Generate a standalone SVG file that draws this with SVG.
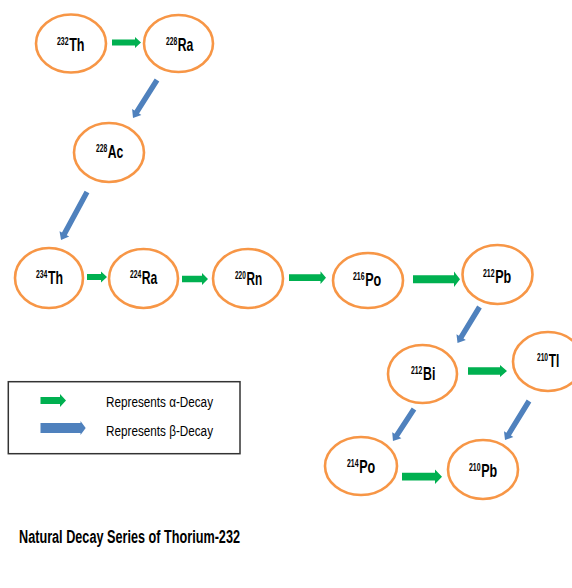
<svg xmlns="http://www.w3.org/2000/svg" width="572" height="588" viewBox="0 0 572 588">
<style>
.node ellipse{fill:#fff;stroke:#F79646;stroke-width:2.6}
.main{font-family:"Liberation Sans",Arial,sans-serif;font-weight:bold;font-size:19px;fill:#000}
.sup{font-family:"Liberation Sans",Arial,sans-serif;font-weight:bold;font-size:10.5px;fill:#000}
.alpha{fill:#00B050}
.beta{fill:#4F81BD}
.leg{font-family:"Liberation Sans",Arial,sans-serif;font-size:15.5px;fill:#000}
.title{font-family:"Liberation Sans",Arial,sans-serif;font-weight:bold;font-size:18px;fill:#000}
</style>
<rect width="572" height="588" fill="#fff"/>
<g id="connectors">
<path class="alpha" d="M112,39.5 H135 V37 L141,42.5 L135,48 V45.5 H112 Z"/>
<path class="alpha" d="M87,274 H101 V271.5 L107,277 L101,282.5 V280 H87 Z"/>
<path class="alpha" d="M182,275.8 H202 V273 L208,279 L202,285 V282.2 H182 Z"/>
<path class="alpha" d="M289,274.3 H320.5 V271.3 L326,277.7 L320.5,284 V281 H289 Z"/>
<path class="alpha" d="M413,275.3 H454 V271.5 L460,279.3 L454,287 V283.3 H413 Z"/>
<path class="alpha" d="M468,367.2 H500 V365 L507,371 L500,377 V374.8 H468 Z"/>
<path class="alpha" d="M402,472.8 H435 V469.5 L442,476.7 L435,484 V480.6 H402 Z"/>
<path class="beta" transform="translate(157,80) rotate(122.3)" d="M0,-2.7 H37.9 V-5.5 L44.9,0 L37.9,5.5 V2.7 H0 Z"/>
<path class="beta" transform="translate(87,192) rotate(118.4)" d="M0,-2.7 H47.6 V-5.5 L54.6,0 L47.6,5.5 V2.7 H0 Z"/>
<path class="beta" transform="translate(479.5,307) rotate(121.4)" d="M0,-2.7 H35.2 V-5.5 L42.2,0 L35.2,5.5 V2.7 H0 Z"/>
<path class="beta" transform="translate(414,409) rotate(123.3)" d="M0,-2.7 H31.3 V-5.5 L38.3,0 L31.3,5.5 V2.7 H0 Z"/>
<path class="beta" transform="translate(529,401) rotate(121.6)" d="M0,-2.7 H38.8 V-5.5 L45.8,0 L38.8,5.5 V2.7 H0 Z"/>
</g>
<g id="n232Th" class="node"><ellipse cx="71" cy="43.5" rx="35" ry="29"/><g transform="translate(57,51) scale(0.66,1)"><text class="sup" x="0" y="-6">232</text><text class="main" x="18.5" y="0">Th</text></g></g>
<g id="n228Ra" class="node"><ellipse cx="178.5" cy="43.5" rx="34.5" ry="28.5"/><g transform="translate(166,51) scale(0.64,1)"><text class="sup" x="0" y="-6">228</text><text class="main" x="18.5" y="0">Ra</text></g></g>
<g id="n228Ac" class="node"><ellipse cx="109" cy="152.5" rx="35" ry="29.5"/><g transform="translate(96,158) scale(0.64,1)"><text class="sup" x="0" y="-6">228</text><text class="main" x="18.5" y="0">Ac</text></g></g>
<g id="n234Th" class="node"><ellipse cx="49" cy="278" rx="34" ry="30"/><g transform="translate(36,284) scale(0.65,1)"><text class="sup" x="0" y="-6">234</text><text class="main" x="18.5" y="0">Th</text></g></g>
<g id="n224Ra" class="node"><ellipse cx="143.5" cy="278.5" rx="34.5" ry="29.5"/><g transform="translate(130,284) scale(0.64,1)"><text class="sup" x="0" y="-6">224</text><text class="main" x="18.5" y="0">Ra</text></g></g>
<g id="n220Rn" class="node"><ellipse cx="248" cy="278.5" rx="35" ry="29.5"/><g transform="translate(235,285) scale(0.62,1)"><text class="sup" x="0" y="-6">220</text><text class="main" x="18.5" y="0">Rn</text></g></g>
<g id="n216Po" class="node"><ellipse cx="368" cy="280.5" rx="35" ry="27.5"/><g transform="translate(353,286) scale(0.66,1)"><text class="sup" x="0" y="-6">216</text><text class="main" x="18.5" y="0">Po</text></g></g>
<g id="n212Pb" class="node"><ellipse cx="497.5" cy="274.5" rx="35" ry="29.5"/><g transform="translate(483,283) scale(0.66,1)"><text class="sup" x="0" y="-6">212</text><text class="main" x="18.5" y="0">Pb</text></g></g>
<g id="n212Bi" class="node"><ellipse cx="422.5" cy="374" rx="34.5" ry="29"/><g transform="translate(411,380) scale(0.65,1)"><text class="sup" x="0" y="-6">212</text><text class="main" x="18.5" y="0">Bi</text></g></g>
<g id="n210Tl" class="node"><ellipse cx="548" cy="361.5" rx="35" ry="29.5"/><g transform="translate(537,367) scale(0.63,1)"><text class="sup" x="0" y="-6">210</text><text class="main" x="18.5" y="0">Tl</text></g></g>
<g id="n214Po" class="node"><ellipse cx="361" cy="466" rx="36" ry="29"/><g transform="translate(347,473) scale(0.66,1)"><text class="sup" x="0" y="-6">214</text><text class="main" x="18.5" y="0">Po</text></g></g>
<g id="n210Pb" class="node"><ellipse cx="483" cy="469.5" rx="35" ry="29.5"/><g transform="translate(469,477) scale(0.66,1)"><text class="sup" x="0" y="-6">210</text><text class="main" x="18.5" y="0">Pb</text></g></g>
<g id="legend">
<rect x="8.3" y="381.7" width="231.7" height="72" fill="#fff" stroke="#333" stroke-width="1.5"/>
<path class="alpha" d="M40.5,397 H60 V394 L66,400.5 L60,407 V404 H40.5 Z"/>
<path class="beta" d="M40.5,423 H80.5 V421 L85.7,428 L80.5,435 V433 H40.5 Z"/>
<text class="leg" x="106" y="407" textLength="107" lengthAdjust="spacingAndGlyphs">Represents α-Decay</text>
<text class="leg" x="106" y="436" textLength="107" lengthAdjust="spacingAndGlyphs">Represents β-Decay</text>
</g>
<text class="title" x="19" y="543" textLength="221" lengthAdjust="spacingAndGlyphs">Natural Decay Series of Thorium-232</text>
</svg>
